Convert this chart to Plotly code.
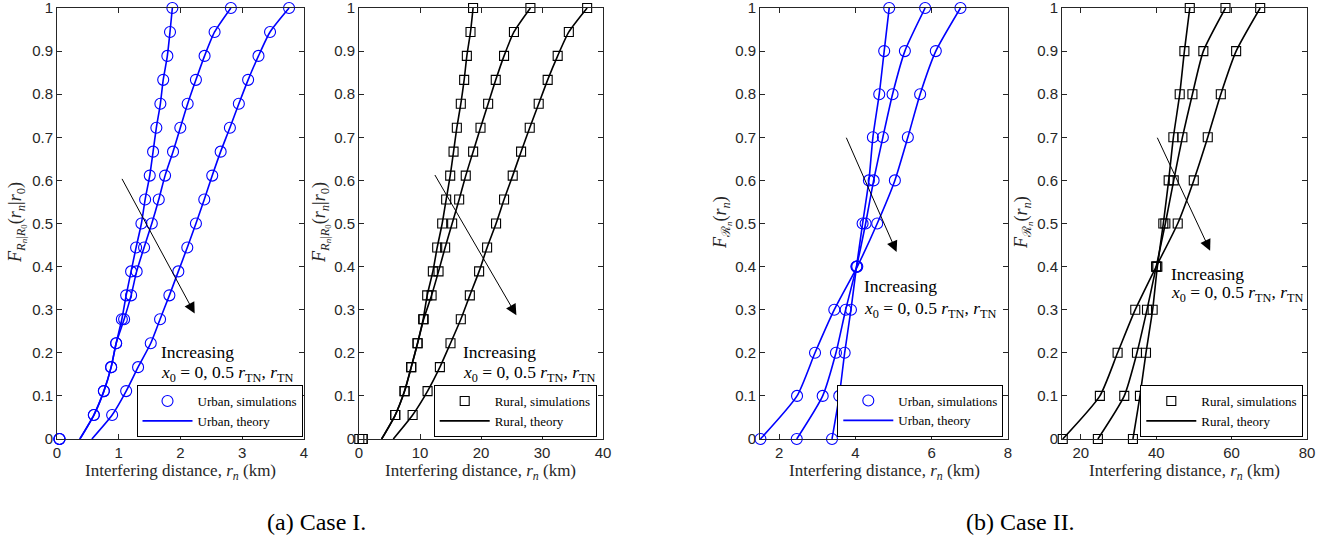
import plotly.graph_objects as go

# ---------------- data ----------------
# Case I: CDF levels (k/18)
cdf_levels_I = [0, 0.0556, 0.1111, 0.1667, 0.2222, 0.2778, 0.3333, 0.3889, 0.4444, 0.5,
                0.5556, 0.6111, 0.6667, 0.7222, 0.7778, 0.8333, 0.8889, 0.9444, 1.0]

# Urban, Case I (km) - simulations
urban_I_sim_1 = [0.04, 0.597, 0.759, 0.877, 0.958, 1.05, 1.12, 1.20, 1.281, 1.367,
                 1.427, 1.502, 1.556, 1.609, 1.674, 1.72, 1.787, 1.83, 1.868]
urban_I_sim_2 = [0.04, 0.597, 0.759, 0.877, 0.958, 1.087, 1.20, 1.29, 1.41, 1.535,
                 1.648, 1.75, 1.879, 1.997, 2.116, 2.25, 2.39, 2.552, 2.816]
urban_I_sim_3 = [0.04, 0.893, 1.12, 1.313, 1.518, 1.669, 1.82, 1.965, 2.11, 2.25,
                 2.385, 2.514, 2.65, 2.8, 2.945, 3.095, 3.263, 3.45, 3.758]
# Urban, Case I - theory (start at x-intercept)
urban_I_th_1 = [0.37] + urban_I_sim_1[1:]
urban_I_th_2 = [0.37] + urban_I_sim_2[1:]
urban_I_th_3 = [0.565] + urban_I_sim_3[1:]

# Rural, Case I (km) - simulations
rural_I_sim_1 = [0.05, 5.94, 7.47, 8.56, 9.6, 10.52, 11.18, 12.11, 12.82, 13.64,
                 14.29, 14.95, 15.5, 16.04, 16.69, 17.24, 17.68, 18.28, 18.7]
rural_I_sim_2 = [0.6, 5.94, 7.47, 8.56, 9.6, 10.6, 11.9, 13.04, 14.12, 15.27,
                 16.42, 17.5, 18.71, 19.92, 21.17, 22.42, 23.78, 25.4, 28.1]
rural_I_sim_3 = [0.6, 8.79, 11.24, 13.26, 15.0, 16.69, 18.17, 19.69, 21.0, 22.47,
                 23.78, 25.2, 26.57, 27.99, 29.46, 30.93, 32.57, 34.4, 37.4]
rural_I_th_1 = [3.71] + rural_I_sim_1[1:]
rural_I_th_2 = [3.71] + rural_I_sim_2[1:]
rural_I_th_3 = [5.62] + rural_I_sim_3[1:]

# Case II: CDF levels
cdf_levels_II = [0, 0.1, 0.2, 0.3, 0.4, 0.5, 0.6, 0.7, 0.8, 0.9, 1.0]

urban_II_1 = [3.387, 3.578, 3.719, 3.884, 4.03, 4.189, 4.355, 4.459, 4.625, 4.755, 4.886]
urban_II_2 = [2.463, 3.143, 3.491, 3.745, 4.03, 4.268, 4.478, 4.72, 4.974, 5.297, 5.828]
urban_II_3 = [1.511, 2.471, 2.942, 3.447, 4.05, 4.572, 5.035, 5.375, 5.697, 6.108, 6.754]

rural_II_1 = [33.82, 35.68, 37.28, 39.05, 40.3, 41.88, 43.3, 44.55, 46.23, 47.47, 48.9]
rural_II_2 = [24.52, 31.52, 34.89, 37.55, 40.0, 42.42, 44.64, 46.94, 49.6, 52.5, 58.37]
rural_II_3 = [15.2, 25.05, 29.75, 34.44, 40.0, 45.7, 49.96, 53.67, 57.13, 61.2, 67.58]

y_ticks = [0, 0.1, 0.2, 0.3, 0.4, 0.5, 0.6, 0.7, 0.8, 0.9, 1]
y_tick_labels = ["0", "0.1", "0.2", "0.3", "0.4", "0.5", "0.6", "0.7", "0.8", "0.9", "1"]

# ---------------- figure ----------------
W, H = 1330, 542
BLUE = "#0000FF"
BLACK = "#000000"
AXC = "#262626"
SERIF = "Liberation Serif, Times New Roman, serif"
SANS = "Liberation Sans, Arial, sans-serif"

fig = go.Figure()

def px_x(p):
    return p / W

def px_y(p):
    return 1 - p / H

panels = [
    ("", (57, 304), [0, 4], [0, 1, 2, 3, 4], BLUE, "circle-open", 11, "legend", "Urban"),
    ("2", (359, 603), [0, 40], [0, 10, 20, 30, 40], BLACK, "square-open", 9, "legend2", "Rural"),
    ("3", (760, 1008), [1.5, 8], [2, 4, 6, 8], BLUE, "circle-open", 11, "legend3", "Urban"),
    ("4", (1062, 1307), [15, 80], [20, 40, 60, 80], BLACK, "square-open", 9, "legend4", "Rural"),
]

series = [
    (cdf_levels_I, [urban_I_sim_1, urban_I_sim_2, urban_I_sim_3], [urban_I_th_1, urban_I_th_2, urban_I_th_3]),
    (cdf_levels_I, [rural_I_sim_1, rural_I_sim_2, rural_I_sim_3], [rural_I_th_1, rural_I_th_2, rural_I_th_3]),
    (cdf_levels_II, [urban_II_1, urban_II_2, urban_II_3], [urban_II_1, urban_II_2, urban_II_3]),
    (cdf_levels_II, [rural_II_1, rural_II_2, rural_II_3], [rural_II_1, rural_II_2, rural_II_3]),
]

legend_pos = [(302.5, 437), (596.7, 437), (1003.3, 436.5), (1303.3, 437)]

top_px, bot_px = 8, 439
layout_axes = {}
for i, (sfx, dom, xr, xt, col, sym, msz, leg, name) in enumerate(panels):
    levels, sims, ths = series[i]
    xa = "x" + sfx
    ya = "y" + sfx
    for j, th in enumerate(ths):
        fig.add_trace(go.Scatter(
            x=th, y=levels, mode="lines", xaxis=xa, yaxis=ya,
            line=dict(color=col, width=1.6, shape="spline", smoothing=0.6),
            name=f"{name}, theory", showlegend=(j == 0), legend=leg,
            legendrank=2, hoverinfo="skip", cliponaxis=False))
    for j, sm in enumerate(sims):
        fig.add_trace(go.Scatter(
            x=sm, y=levels, mode="markers", xaxis=xa, yaxis=ya,
            marker=dict(symbol=sym, size=msz, color=col, line=dict(color=col, width=1.1)),
            name=f"{name}, simulations", showlegend=(j == 0), legend=leg,
            legendrank=1, hoverinfo="skip", cliponaxis=False))

    axis_common = dict(showline=True, linecolor=AXC, linewidth=1, mirror="ticks",
                       ticks="inside", ticklen=5, tickcolor=AXC, tickwidth=1,
                       showgrid=False, zeroline=False, automargin=False,
                       ticklabeloverflow="allow",
                       tickfont=dict(family=SANS, size=15, color=AXC))
    layout_axes["xaxis" + sfx] = dict(
        domain=[px_x(dom[0]), px_x(dom[1])], range=xr, tickvals=xt,
        anchor=ya, **axis_common)
    layout_axes["yaxis" + sfx] = dict(
        domain=[px_y(bot_px), px_y(top_px)], range=[0, 1], tickvals=y_ticks,
        ticktext=y_tick_labels, anchor=xa, **axis_common)

    lx, ly = legend_pos[i]
    layout_axes[leg] = dict(
        x=px_x(lx), y=px_y(ly), xanchor="right", yanchor="bottom",
        bordercolor=BLACK, borderwidth=1, bgcolor="white",
        font=dict(family=SERIF, size=13, color=BLACK),
        tracegroupgap=0, itemwidth=50, traceorder="normal")

fig.update_layout(**layout_axes)

annotations = []
xt_text = "Interfering distance, <i>r<sub>n</sub></i> (km)"
for (sfx, dom, *_rest) in panels:
    annotations.append(dict(
        text=xt_text, x=px_x((dom[0] + dom[1]) / 2), y=px_y(472),
        xref="paper", yref="paper", showarrow=False,
        font=dict(family=SERIF, size=17, color=AXC), xanchor="center", yanchor="middle"))

yt_I = "<i>F</i><sub><i>R<sub>n</sub></i>|<i>R</i><sub>0</sub></sub>(<i>r<sub>n</sub></i>|<i>r</i><sub>0</sub>)"
yt_II = ("<i>F</i><sub><span style='font-family:DejaVu Serif'>ℛ</span>"
         "<sub><i>n</i></sub></sub>(<i>r<sub>n</sub></i>)")
for xpx, txt in [(17, yt_I), (321, yt_I), (722, yt_II), (1023, yt_II)]:
    annotations.append(dict(
        text=txt, x=px_x(xpx), y=px_y(223), xref="paper", yref="paper",
        showarrow=False, textangle=-90,
        font=dict(family=SERIF, size=18, color=AXC), xanchor="center", yanchor="middle"))

arrows = [
    ("", (2.23, 0.291), (1.04, 0.607)),
    ("2", (25.8, 0.287), (12.3, 0.616)),
    ("3", (5.08, 0.434), (3.745, 0.7025)),
    ("4", (54.3, 0.437), (40.1, 0.7025)),
]
for sfx, head, tail in arrows:
    annotations.append(dict(
        x=head[0], y=head[1], ax=tail[0], ay=tail[1],
        xref="x" + sfx, yref="y" + sfx, axref="x" + sfx, ayref="y" + sfx,
        showarrow=True, arrowhead=2, arrowsize=2.2, arrowwidth=1, arrowcolor=BLACK, text=""))

inc_pos = [
    ("", 1.657, 0.203, 0.152),
    ("2", 16.8, 0.203, 0.152),
    ("3", 4.18, 0.355, 0.301),
    ("4", 43.4, 0.384, 0.338),
]
x0_text = "<i>x</i><sub>0</sub> = 0, 0.5 <i>r</i><sub>TN</sub>, <i>r</i><sub>TN</sub>"
for sfx, xs, y1, y2 in inc_pos:
    annotations.append(dict(
        text="Increasing", x=xs, y=y1, xref="x" + sfx, yref="y" + sfx,
        showarrow=False, xanchor="left", yanchor="middle",
        font=dict(family=SERIF, size=17.5, color=BLACK)))
    annotations.append(dict(
        text=x0_text, x=xs, y=y2, xref="x" + sfx, yref="y" + sfx,
        showarrow=False, xanchor="left", yanchor="middle",
        font=dict(family=SERIF, size=17.5, color=BLACK)))

annotations.append(dict(text="(a) Case I.", x=px_x(316.5), y=px_y(522), xref="paper", yref="paper",
                        xanchor="center", yanchor="middle",
                        showarrow=False, font=dict(family=SERIF, size=24, color=BLACK)))
annotations.append(dict(text="(b) Case II.", x=px_x(1020), y=px_y(522), xref="paper", yref="paper",
                        xanchor="center", yanchor="middle",
                        showarrow=False, font=dict(family=SERIF, size=24, color=BLACK)))

fig.update_layout(
    template="none",
    width=W, height=H,
    margin=dict(l=0, r=0, t=0, b=0, autoexpand=False),
    paper_bgcolor="white", plot_bgcolor="white",
    annotations=annotations,
)

fig.write_html("out.html", config={"displayModeBar": False},
               post_script="document.body.style.margin='0px';")
